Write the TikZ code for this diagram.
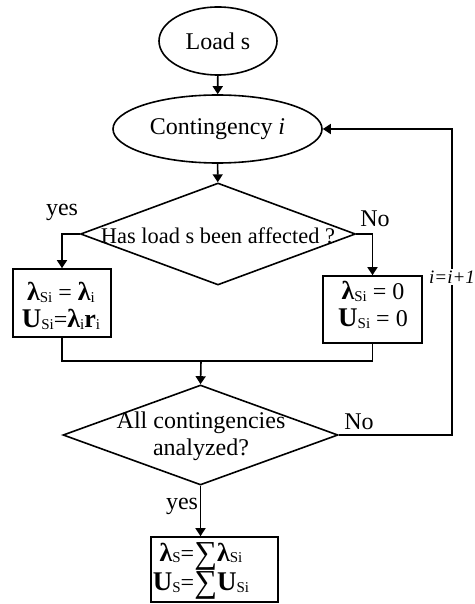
\documentclass[tikz,border=0pt]{standalone}
\usepackage{fontspec}
\setmainfont{Liberation Serif}
\usetikzlibrary{shapes.geometric,arrows.meta}
% subscript set small and upright, slightly lowered
\newcommand{\sbs}[1]{\raisebox{-0.8pt}{\fontsize{7.5}{8}\selectfont\mdseries #1}}
\newcommand{\bl}{{\fontsize{13}{13}\selectfont\bfseries λ}}
\newcommand{\bU}{{\fontsize{13.5}{13}\selectfont\bfseries U}}
\newcommand{\br}{{\fontsize{13}{13}\selectfont\bfseries r}}
\newcommand{\bigsum}{\raisebox{-1pt}{\fontsize{16}{16}\selectfont ∑}}

\begin{document}
\begin{tikzpicture}[x=0.5pt,y=-0.5pt, line width=0.8pt,
  font=\fontsize{12}{13.5}\selectfont,
  term/.style={draw, ellipse, inner sep=0pt},
  decision/.style={draw, diamond, inner sep=0pt},
  procbox/.style={draw, rectangle, inner sep=0pt},
  txt/.style={align=center, inner sep=0pt},
  flow/.style={-{Triangle[width=5pt,length=4pt]}},
  tag/.style={inner sep=1pt}]
\useasboundingbox (0,0) rectangle (475,604);

% terminals
\node[term, minimum width=59pt, minimum height=34pt] (load) at (218,41) {Load s};
\node[term, minimum width=104.5pt, minimum height=34pt] (cont) at (217.5,129) {Contingency \textit{i}};

% first decision
\node[decision, minimum width=137.5pt, minimum height=51pt] (d1) at (218,234) {};
\node[txt, font=\fontsize{11.2}{13}\selectfont] (d1t) at (218,236) {Has load s been affected ?};

% outcome boxes
\node[procbox, minimum width=49pt, minimum height=34pt] (boxL) at (62,303) {};
\node[txt] (boxLt) at (61,306) {\bl\sbs{Si} = \bl\sbs{i}\\ \bU\sbs{Si}=\bl\sbs{i}\br\sbs{i}};
\node[procbox, minimum width=49.5pt, minimum height=33.5pt] (boxR) at (372.5,309.5) {};
\node[txt] (boxRt) at (373,305) {\bl\sbs{Si} = 0\\ \bU\sbs{Si} = 0};

% second decision
\node[decision, minimum width=137.5pt, minimum height=50pt] (d2) at (200.5,435) {};
\node[txt] (d2t) at (201,436) {All contingencies\\analyzed?};

% result box
\node[procbox, minimum width=63.5pt, minimum height=32.5pt] (res) at (214.5,569.5) {};
\node[txt] (rest) at (201,571) {\bl\sbs{S}=\bigsum\bl\sbs{Si}\\ \bU\sbs{S}=\bigsum\bU\sbs{Si}};

% connectors
\draw[flow] (load) -- (cont);
\draw[flow] (cont) -- (d1);
\draw[flow] (d1.west) -| (boxL.north);
\draw[flow] (d1.east) -| (boxR.north);
\coordinate (join) at (201,361);
\draw (boxL.south) |- (join);
\draw (boxR.south) |- (join);
\draw[flow] (join) -- (d2.north);
\draw[flow] (d2.south) -- (d2.south |- res.north);
\coordinate (back) at (452,435);
\draw[flow] (d2.east) -- (back) |- (cont.east);

% branch labels
\node[tag] (yes1) at (62,212) {yes};
\node[tag] (no1) at (375,219) {No};
\node[tag] (no2) at (359,422) {No};
\node[tag] (yes2) at (182,506) {yes};
\node[tag, fill=white, font=\fontsize{9.5}{10}\selectfont\itshape] (incr) at (452,277) {i=i+1};
\end{tikzpicture}
\end{document}
